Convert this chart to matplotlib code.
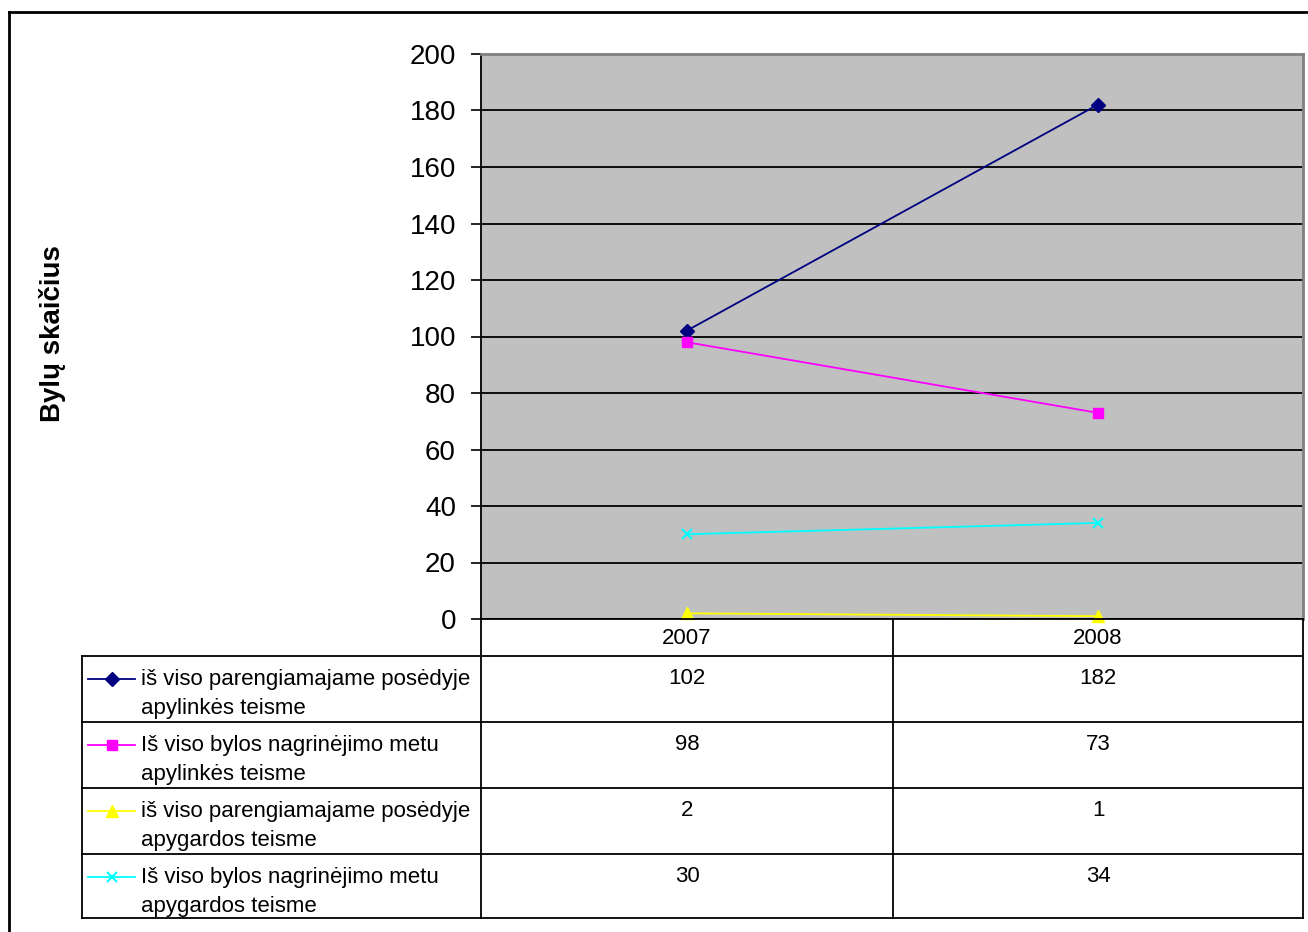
import matplotlib
matplotlib.use("Agg")
import matplotlib.pyplot as plt
from matplotlib.lines import Line2D

plt.rcParams['font.family'] = ['Liberation Sans', 'DejaVu Sans']

# data
years = ['2007', '2008']
series_names = [
    'iš viso parengiamajame posėdyje\napylinkės teisme',
    'Iš viso bylos nagrinėjimo metu\napylinkės teisme',
    'iš viso parengiamajame posėdyje\napygardos teisme',
    'Iš viso bylos nagrinėjimo metu\napygardos teisme',
]
apyl_posedis = [102, 182]
apyl_nagrinejimas = [98, 73]
apyg_posedis = [2, 1]
apyg_nagrinejimas = [30, 34]
all_values = [apyl_posedis, apyl_nagrinejimas, apyg_posedis, apyg_nagrinejimas]

colors = ['#000080', '#FF00FF', '#FFFF00', '#00FFFF']
markers = ['D', 's', '^', 'x']
msizes = [7, 7.5, 8.5, 7]

W, H = 1308, 932
fig = plt.figure(figsize=(W / 100, H / 100), dpi=100)
fig.patch.set_facecolor('white')

# plot area in pixel coordinates
px_left, px_right, px_top, px_bottom = 481, 1303, 54, 619
ax = fig.add_axes([px_left / W, 1 - px_bottom / H,
                   (px_right - px_left) / W, (px_bottom - px_top) / H])
ax.set_facecolor('#C0C0C0')
ax.set_xlim(0, len(years))
ax.set_ylim(0, 200)
ax.set_yticks(range(0, 201, 20))
ax.set_xticks([])
ax.grid(axis='y', color='black', linewidth=1.3)
ax.set_axisbelow(True)
ax.tick_params(axis='y', direction='out', length=7, width=1.2, labelsize=20, pad=11)
for s in ['top', 'right']:
    ax.spines[s].set_color('#808080')
    ax.spines[s].set_linewidth(2)
ax.spines['left'].set_linewidth(1.3)
ax.spines['bottom'].set_linewidth(1.3)

xs = [i + 0.5 for i in range(len(years))]
for vals, c, m, ms in zip(all_values, colors, markers, msizes):
    ax.plot(xs, vals, color=c, marker=m, markersize=ms, linewidth=1.3,
            markeredgecolor=c, markeredgewidth=1.5 if m == 'x' else 1, clip_on=False)

fig.text(52 / W, 1 - 334 / H, 'Bylų skaičius', rotation=90, fontsize=20,
         fontweight='bold', ha='center', va='center')

# overlay for table and frame
ov = fig.add_axes([0, 0, 1, 1], facecolor='none')
ov.set_xlim(0, W)
ov.set_ylim(H, 0)
ov.axis('off')

lw = 1.3
# outer frame
ov.plot([9, 9], [12, H + 5], color='black', linewidth=2, clip_on=False)
ov.plot([9, W + 5], [12, 12], color='black', linewidth=2, clip_on=False)

tbl_left = 82
col_x = [px_left, 893, px_right]
row_y = [px_bottom, 656, 722, 788, 854, 918]

for x in col_x:
    ov.plot([x, x], [row_y[0], row_y[-1]], color='black', linewidth=lw)
ov.plot([tbl_left, tbl_left], [row_y[1], row_y[-1]], color='black', linewidth=lw)
for y in row_y[1:]:
    ov.plot([tbl_left, px_right], [y, y], color='black', linewidth=lw)

for j, yr in enumerate(years):
    cx = (col_x[j] + col_x[j + 1]) / 2
    ov.text(cx, (row_y[0] + row_y[1]) / 2 + 1, yr, fontsize=16, ha='center', va='center')

for i, (name, vals, c, m, ms) in enumerate(zip(series_names, all_values, colors, markers, msizes)):
    top = row_y[i + 1]
    ly = top + 23
    ov.add_line(Line2D([88, 135], [ly, ly], color=c, linewidth=1.3))
    ov.plot([112], [ly], marker=m, color=c, markersize=ms,
            markeredgewidth=1.5 if m == 'x' else 1, linestyle='none')
    ov.text(141, top + 38, name, fontsize=16, ha='left', va='center', linespacing=1.5)
    for j, v in enumerate(vals):
        cx = (col_x[j] + col_x[j + 1]) / 2
        ov.text(cx, top + 23, str(v), fontsize=16, ha='center', va='center')

fig.savefig('out.png', dpi=100)
